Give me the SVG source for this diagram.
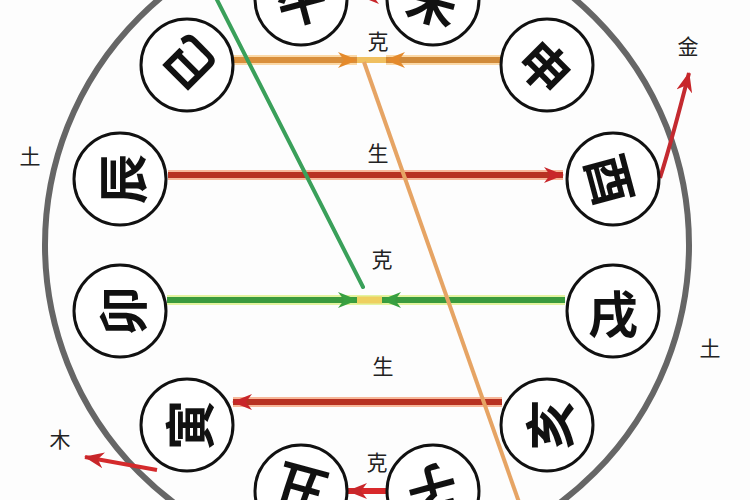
<svg xmlns="http://www.w3.org/2000/svg" width="750" height="500" viewBox="0 0 750 500">
<style>
.node circle{fill:#fff;stroke:#111;stroke-width:3}
.node text{font-family:"Noto Sans CJK SC","Noto Sans CJK TC",sans-serif;font-weight:700;font-size:50px;fill:#111;text-anchor:middle;dominant-baseline:central}
.lbl{font-family:"Noto Sans CJK SC",sans-serif;font-size:21px;fill:#222;text-anchor:middle;dominant-baseline:central}
.c line,.c path{fill:none}
</style>
<defs>
<marker id="aO" viewBox="0 0 20 16" refX="19" refY="8" markerWidth="20" markerHeight="16" markerUnits="userSpaceOnUse" orient="auto"><path d="M0,0 L20,8 L0,16 L6,8 z" fill="#e48a2c"/></marker>
<marker id="aR" viewBox="0 0 20 16" refX="19" refY="8" markerWidth="20" markerHeight="16" markerUnits="userSpaceOnUse" orient="auto"><path d="M0,0 L20,8 L0,16 L6,8 z" fill="#c8262a"/></marker>
<marker id="aG" viewBox="0 0 20 16" refX="19" refY="8" markerWidth="20" markerHeight="16" markerUnits="userSpaceOnUse" orient="auto"><path d="M0,0 L20,8 L0,16 L6,8 z" fill="#38a040"/></marker>
</defs>
<rect width="750" height="500" fill="#fdfdfd"/>
<circle cx="367" cy="245" r="322" fill="none" stroke="#666" stroke-width="6"/>
<g id="connectors" class="c">
<line x1="233" y1="60" x2="357" y2="60" stroke="#fbd9a8" stroke-width="10"/>
<line x1="501" y1="60" x2="386" y2="60" stroke="#fbd9a8" stroke-width="10"/>
<line x1="233" y1="60" x2="357" y2="60" stroke="#d98f3c" stroke-width="6" marker-end="url(#aO)"/>
<line x1="501" y1="60" x2="386" y2="60" stroke="#d08a3a" stroke-width="6" marker-end="url(#aO)"/>
<line x1="357" y1="60" x2="386" y2="60" stroke="#f0c060" stroke-width="6"/>
<line x1="168" y1="175" x2="563" y2="175" stroke="#f7b89a" stroke-width="10"/>
<line x1="168" y1="175" x2="563" y2="175" stroke="#b83222" stroke-width="6" marker-end="url(#aR)"/>
<line x1="167" y1="300" x2="565" y2="300" stroke="#e4f4a0" stroke-width="10"/>
<line x1="167" y1="300" x2="357" y2="300" stroke="#3a9a3e" stroke-width="6" marker-end="url(#aG)"/>
<line x1="565" y1="300" x2="382" y2="300" stroke="#3a9a3e" stroke-width="6" marker-end="url(#aG)"/>
<line x1="357" y1="300" x2="382" y2="300" stroke="#eed060" stroke-width="7"/>
<line x1="502" y1="402" x2="233" y2="402" stroke="#f7b89a" stroke-width="10"/>
<line x1="502" y1="402" x2="233" y2="402" stroke="#b83222" stroke-width="6" marker-end="url(#aR)"/>
<line x1="400" y1="491" x2="348" y2="491" stroke="#d8282a" stroke-width="6" marker-end="url(#aR)"/>
<line x1="386" y1="-4" x2="360" y2="-4" stroke="#d84a2a" stroke-width="5" marker-end="url(#aR)"/>
<line x1="212" y1="-10" x2="363" y2="287" stroke="#3aa05a" stroke-width="4" stroke-linecap="round"/>
<line x1="364" y1="62" x2="520" y2="505" stroke="#e6a464" stroke-width="4"/>
<path d="M660,178 Q672,140 689,73" stroke="#c42a30" stroke-width="4" marker-end="url(#aR)"/>
<line x1="157" y1="470" x2="85" y2="457" stroke="#d42a2c" stroke-width="4" marker-end="url(#aR)"/>
</g>
<g id="n-wu" class="node"><circle cx="301" cy="-1" r="46"/><text transform="translate(301,-1) rotate(-15)">午</text></g>
<g id="n-wei" class="node"><circle cx="433" cy="-1" r="46"/><text transform="translate(433,-1) rotate(15)">未</text></g>
<g id="n-shen" class="node"><circle cx="547" cy="65" r="46"/><text transform="translate(547,65) rotate(45)">申</text></g>
<g id="n-you" class="node"><circle cx="613" cy="179" r="46"/><text transform="translate(613,179) rotate(75)">酉</text></g>
<g id="n-xu" class="node"><circle cx="613" cy="311" r="46"/><text transform="translate(613,311) rotate(0)">戌</text></g>
<g id="n-hai" class="node"><circle cx="547" cy="425" r="46"/><text transform="translate(547,425) rotate(-90)">亥</text></g>
<g id="n-zi" class="node"><circle cx="433" cy="491" r="46"/><text transform="translate(433,491) rotate(165)">子</text></g>
<g id="n-chou" class="node"><circle cx="301" cy="491" r="46"/><text transform="translate(301,491) rotate(195)">丑</text></g>
<g id="n-yin" class="node"><circle cx="187" cy="425" r="46"/><text transform="translate(187,425) rotate(-90)">寅</text></g>
<g id="n-mao" class="node"><circle cx="120" cy="311" r="46"/><text transform="translate(120,311) rotate(-90)">卯</text></g>
<g id="n-chen" class="node"><circle cx="120" cy="179" r="46"/><text transform="translate(120,179) rotate(-90)">辰</text></g>
<g id="n-si" class="node"><circle cx="187" cy="65" r="46"/><text transform="translate(187,65) rotate(225)">巳</text></g>
<g id="labels">
<text class="lbl" x="378" y="40">克</text>
<text class="lbl" x="378" y="152">生</text>
<text class="lbl" x="382" y="258">克</text>
<text class="lbl" x="383" y="365">生</text>
<text class="lbl" x="377" y="461">克</text>
<text class="lbl" x="30" y="155">土</text>
<text class="lbl" x="710" y="347">土</text>
<text class="lbl" x="688" y="45">金</text>
<text class="lbl" x="60" y="438">木</text>
</g>
</svg>
